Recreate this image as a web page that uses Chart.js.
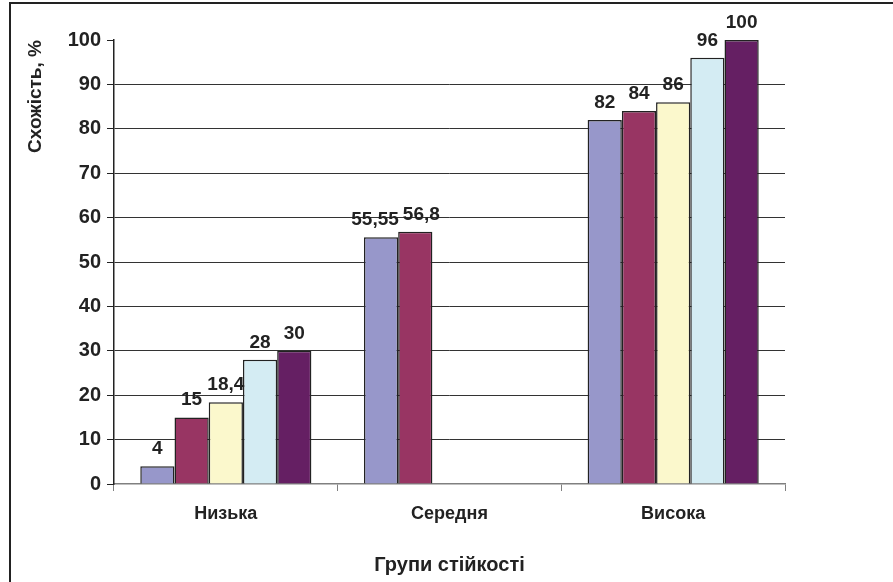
<!DOCTYPE html>
<html>
<head>
<meta charset="utf-8">
<script src="https://cdn.jsdelivr.net/npm/chart.js@4.4.0/dist/chart.umd.min.js"></script>
<style>
  html, body { margin: 0; padding: 0; background: #fff; }
  #wrap { width: 893px; height: 582px; position: relative; }
</style>
</head>
<body>
<div id="wrap"><canvas id="chart"></canvas></div>
<script>
// data
const categories = ['Низька', 'Середня', 'Висока'];
const series1 = [4, 55.55, 82];
const series2 = [15, 56.8, 84];
const series3 = [18.4, null, 86];
const series4 = [28, null, 96];
const series5 = [30, null, 100];
const barColors = ['#9797ca', '#983563', '#fbf8cc', '#d4ecf3', '#651f63'];

const fontFamily = '"Liberation Sans", Arial, sans-serif';

// value labels above bars, comma as decimal separator;
// neighbouring labels that collide get pushed apart
const valueLabels = {
  id: 'valueLabels',
  afterDatasetsDraw(chart) {
    const ctx = chart.ctx;
    const size = 19;
    ctx.save();
    ctx.font = 'bold ' + size + 'px ' + fontFamily;
    ctx.fillStyle = '#222';
    ctx.textAlign = 'center';
    ctx.textBaseline = 'alphabetic';
    chart.data.labels.forEach((_, j) => {
      const items = [];
      chart.data.datasets.forEach((ds, i) => {
        const v = ds.data[j];
        if (v == null) return;
        const bar = chart.getDatasetMeta(i).data[j];
        const text = String(v).replace('.', ',');
        items.push({ text, x: bar.x, y: bar.y - 12, w: ctx.measureText(text).width });
      });
      for (let k = 1; k < items.length; k++) {
        const a = items[k - 1], b = items[k];
        if (Math.abs(a.y - b.y) > size) continue;
        const overlap = (a.x + a.w / 2 + 4) - (b.x - b.w / 2);
        if (overlap > 0) { a.x -= overlap / 2; b.x += overlap / 2; }
      }
      items.forEach(it => ctx.fillText(it.text, it.x, it.y));
    });
    ctx.restore();
  }
};

// outer frame of the chart object
const frame = {
  id: 'frame',
  beforeDraw(chart) {
    const ctx = chart.ctx;
    ctx.save();
    ctx.strokeStyle = '#222';
    ctx.lineWidth = 2;
    ctx.strokeRect(10, 3, 900, 600);
    ctx.restore();
  }
};

const chart = new Chart(document.getElementById('chart'), {
  type: 'bar',
  data: {
    labels: categories,
    datasets: [series1, series2, series3, series4, series5].map((d, i) => ({
      data: d,
      backgroundColor: barColors[i],
      borderColor: '#222',
      borderWidth: 1.5,
      barPercentage: 1,
      categoryPercentage: 0.765,
    })),
  },
  options: {
    responsive: true,
    maintainAspectRatio: false,
    animation: false,
    layout: { padding: { top: 40, right: 108, left: 0, bottom: 0 } },
    plugins: { legend: { display: false }, tooltip: { enabled: false } },
    scales: {
      x: {
        afterFit: s => { s.height = 98; },
        grid: { offset: true, drawOnChartArea: false, tickLength: 7, color: '#808080', lineWidth: 1 },
        border: { color: '#808080', width: 1.5 },
        ticks: { color: '#222', padding: 12, font: { family: fontFamily, size: 18, weight: 'bold' } },
        title: {
          display: true,
          text: 'Групи стійкості',
          color: '#222',
          padding: { top: 0, bottom: 5 },
          font: { family: fontFamily, size: 20, weight: 'bold' }
        }
      },
      y: {
        min: 0,
        max: 100,
        afterFit: s => { s.width = 114; },
        ticks: { stepSize: 10, color: '#222', padding: 6, font: { family: fontFamily, size: 20, weight: 'bold' } },
        grid: {
          tickLength: 7,
          color: c => (c.tick && (c.tick.value === 100 || c.tick.value === 0)) ? 'rgba(0,0,0,0)' : '#333',
          tickColor: '#222',
          lineWidth: 1
        },
        border: { color: '#222', width: 1.5 },
        title: {
          display: true,
          text: 'Схожість, %',
          align: 'end',
          color: '#222',
          padding: { top: 24, bottom: 0 },
          font: { family: fontFamily, size: 19, weight: 'bold' }
        }
      }
    }
  },
  plugins: [valueLabels, frame]
});
</script>
</body>
</html>
